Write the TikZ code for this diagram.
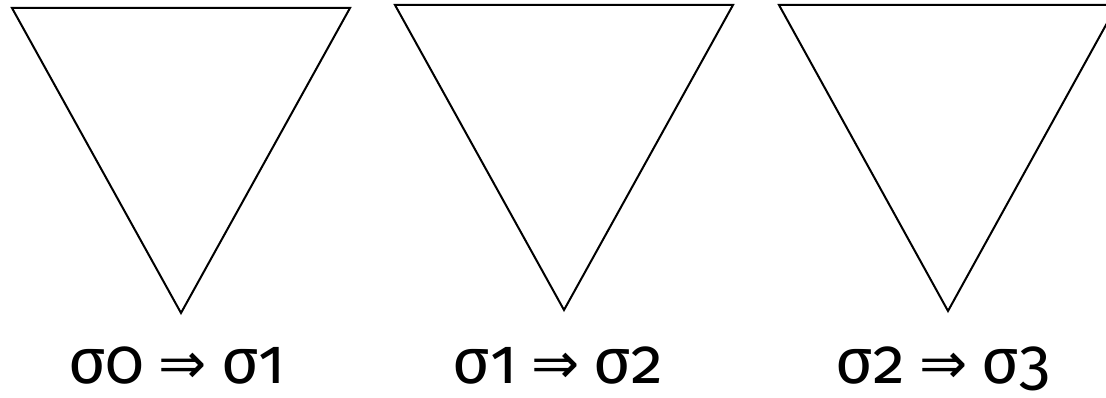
\documentclass[tikz,border=0pt]{standalone}
\usepackage{fontspec}
\setmainfont[Numbers=OldStyle]{Fira Sans}
\newfontfamily\arrowfont{DejaVu Sans}[Scale=0.9]
\newcommand{\imp}{\hspace{0.22em}{\arrowfont ⇒}\hspace{0.22em}}
\begin{document}
\begin{tikzpicture}[x=1pt,y=-1pt,
  tri/.style={draw=black,line width=2pt,line join=miter},
  lab/.style={anchor=base,inner sep=0pt,font=\fontsize{64}{70}\selectfont}]
\useasboundingbox (0,0) rectangle (1106,398);
\begin{scope}
\clip (0,0) rectangle (1106,398);
\coordinate (a1) at (12,8);   \coordinate (b1) at (350,8);   \coordinate (c1) at (181,313);
\coordinate (a2) at (395,5);  \coordinate (b2) at (733,5);   \coordinate (c2) at (564,310);
\coordinate (a3) at (779,5);  \coordinate (b3) at (1117,5);  \coordinate (c3) at (948,311);
\draw[tri] (a1) -- (b1) -- (c1) -- cycle;
\draw[tri] (a2) -- (b2) -- (c2) -- cycle;
\draw[tri] (a3) -- (b3) -- (c3) -- cycle;
\end{scope}
\node[lab] (l1) at (177,383) {σ0\imp σ1};
\node[lab] (l2) at (558,383) {σ1\imp σ2};
\node[lab] (l3) at (943,383) {σ2\imp σ3};
\end{tikzpicture}
\end{document}
